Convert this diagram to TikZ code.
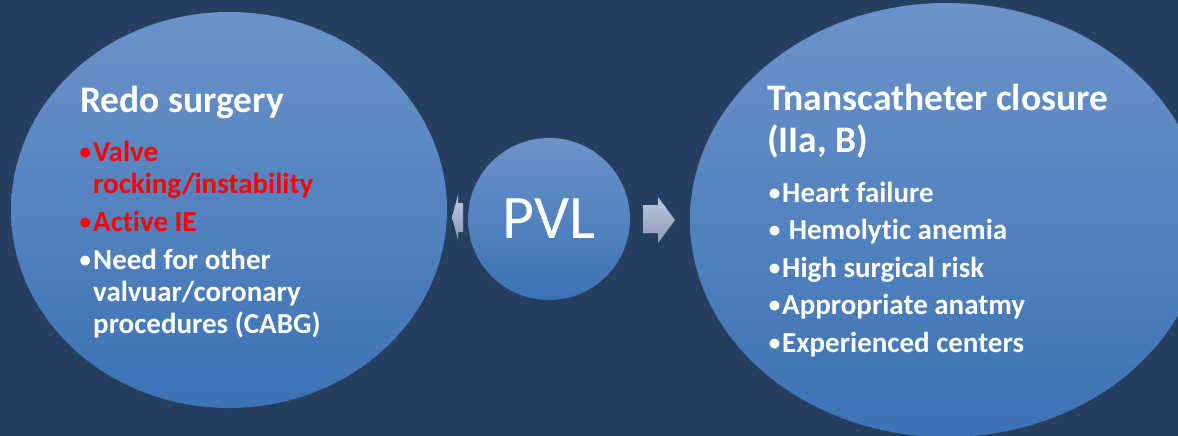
\documentclass[tikz,border=0pt]{standalone}
\usepackage{fontspec}
\setmainfont{Carlito}[Ligatures=NoCommon]
\usetikzlibrary{positioning,shapes.geometric}

\definecolor{slidebg}{HTML}{263F60}
\definecolor{bubtop}{HTML}{6B93CA}
\definecolor{bubbot}{HTML}{3C72B5}
\definecolor{arrtop}{HTML}{BCC7DF}
\definecolor{arrbot}{HTML}{8D9BB8}
\definecolor{alertred}{HTML}{FF0000}

\newcommand{\alertline}[1]{\textcolor{alertred}{#1}}
\newcommand{\bul}{\llap{\raisebox{2pt}{\fontsize{23}{23}\selectfont •}\hspace{2pt}}}

\tikzset{
  bubble/.style={ellipse, inner sep=0pt, top color=bubtop, bottom color=bubbot},
  heading/.style={anchor=base west, inner sep=0pt, text=white, align=left,
    font=\fontsize{37.5}{42}\selectfont\bfseries},
  items/.style={anchor=base west, inner sep=0pt, text=white, align=left,
    font=\fontsize{29}{32}\selectfont\bfseries},
  blockarrow/.style={top color=arrtop, bottom color=arrbot},
}

\begin{document}
\begin{tikzpicture}[x=1pt, y=-1pt]
  \fill[slidebg] (0,0) rectangle (1178,436);
  \useasboundingbox (0,0) rectangle (1178,436);

  % the three bubbles
  \node[bubble, minimum width=436pt, minimum height=396pt] (redo) at (229,210) {};
  \node[bubble, minimum width=514pt, minimum height=434pt] (tcc) at (947,220) {};
  \node[bubble, circle, minimum size=162pt, text=white,
        font=\fontsize{62}{62}\selectfont] (pvl) at (549,219) {PVL};

  % block arrows
  \shade[blockarrow] (463,203) -- (458,203) -- (458,195) -- (452,217)
    -- (458,240) -- (458,232) -- (463,232) -- cycle;
  \shade[blockarrow] (643,205) -- (658,205) -- (658,197) -- (675,220)
    -- (658,243) -- (658,233) -- (643,233) -- cycle;

  % left bubble (multi-line nodes sit on their last baseline)
  \node[heading] (redotitle) at (80,112) {Redo surgery};
  \node[items] (redolist) at (93,333) {%
    \alertline{\bul Valve}\\
    \alertline{rocking/instability}\\[6pt]
    \alertline{\bul Active IE}\\[6pt]
    \bul Need for other\\
    valvuar/coronary\\
    procedures (CABG)};

  % right bubble
  \node[heading] (tcctitle) at (767,152) {Tnanscatheter closure\\(IIa, B)};
  \node[items, font=\fontsize{29}{37.5}\selectfont\bfseries] (tcclist) at (782,352) {%
    \bul Heart failure\\
    \bul\ Hemolytic anemia\\
    \bul High surgical risk\\
    \bul Appropriate anatmy\\
    \bul Experienced centers};
\end{tikzpicture}
\end{document}
